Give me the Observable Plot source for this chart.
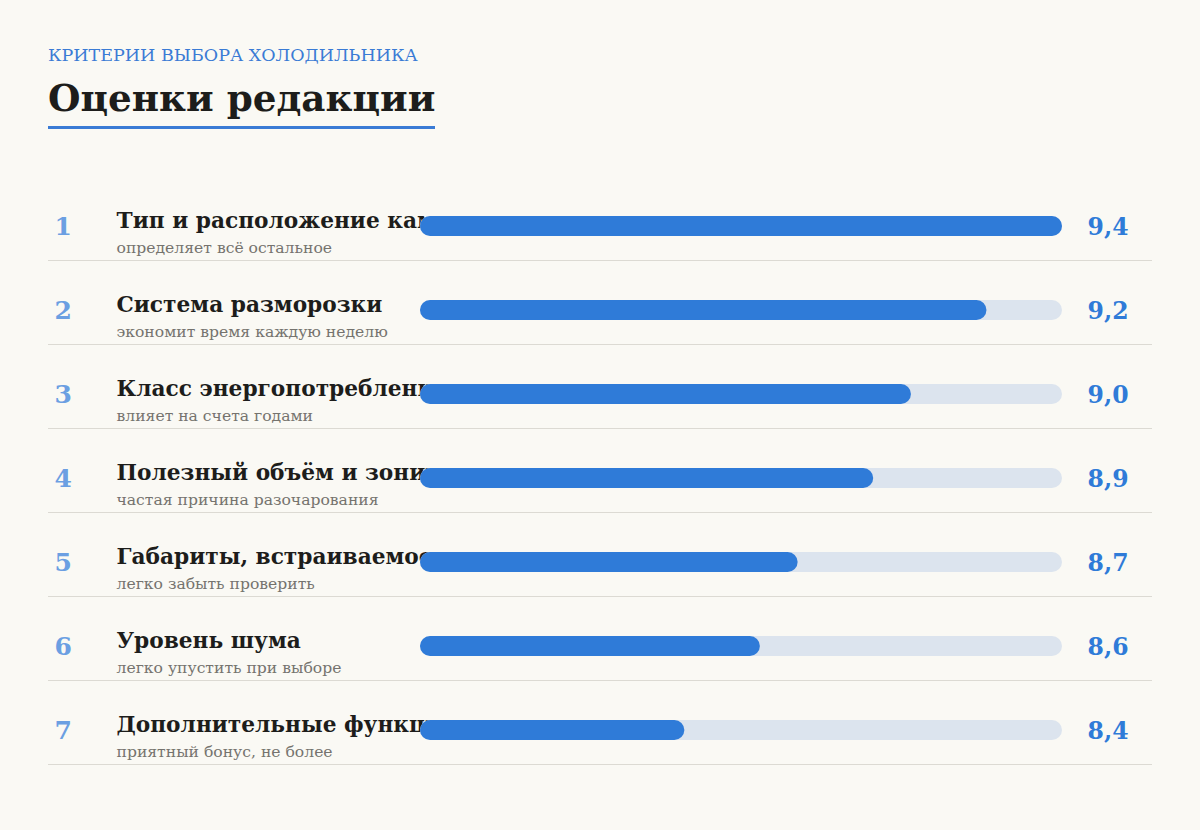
<!DOCTYPE html>
<html lang="ru">
<head>
<meta charset="utf-8">
<script src="https://cdn.jsdelivr.net/npm/d3@7"></script>
<script src="https://cdn.jsdelivr.net/npm/@observablehq/plot@0.6"></script>
<style>
  html, body { margin: 0; padding: 0; background: #faf9f4; }
  body { width: 1200px; height: 830px; overflow: hidden; font-family: "DejaVu Serif", "Liberation Serif", serif; }
  #header { position: relative; height: 150px; }
  #kicker { position: absolute; left: 48px; top: 47px; font-size: 17.5px; line-height: 17.5px; color: #3a7bd5; white-space: nowrap; }
  #title { position: absolute; left: 48px; top: 79px; font-size: 37.3px; line-height: 38px; font-weight: bold; color: #1d1d1b;
           padding-bottom: 9px; border-bottom: 3px solid #3a7bd5; white-space: nowrap; }
</style>
</head>
<body>
<div id="header">
  <div id="kicker">КРИТЕРИИ ВЫБОРА ХОЛОДИЛЬНИКА</div>
  <div id="title">Оценки редакции</div>
</div>
<div id="chart"></div>
<script>
const ranks = [1, 2, 3, 4, 5, 6, 7];
const labels = [
  "Тип и расположение камер",
  "Система разморозки",
  "Класс энергопотребления",
  "Полезный объём и зонирование",
  "Габариты, встраиваемость",
  "Уровень шума",
  "Дополнительные функции"
];
const notes = [
  "определяет всё остальное",
  "экономит время каждую неделю",
  "влияет на счета годами",
  "частая причина разочарования",
  "легко забыть проверить",
  "легко упустить при выборе",
  "приятный бонус, не более"
];
const scores = [9.4, 9.2, 9.0, 8.9, 8.7, 8.6, 8.4];
const scoreMin = 7.7;
const scoreMax = 9.4;

const rows = ranks.map((r, i) => ({rank: r, label: labels[i], note: notes[i], score: scores[i]}));
const fmt = v => v.toFixed(1).replace(".", ",");

const serif = "'DejaVu Serif', 'Liberation Serif', serif";

const chart = Plot.plot({
  width: 1200,
  height: 650,
  marginLeft: 48,
  marginRight: 48,
  marginTop: 0,
  marginBottom: 0,
  style: {background: "transparent", fontFamily: serif, overflow: "visible"},
  x: {domain: [scoreMin, scoreMax], range: [420, 1062], axis: null},
  y: {domain: ranks, range: [34, 622], padding: 0, axis: null},
  marks: [
    Plot.ruleY(rows, {y: "rank", dy: 34, stroke: "#dcdad3", strokeWidth: 1}),
    Plot.text(rows, {y: "rank", text: d => String(d.rank), frameAnchor: "left", textAnchor: "start",
      dx: 6, dy: 0, fontSize: 25, fontWeight: "bold", fill: "#6b9fe2"}),
    Plot.text(rows, {y: "rank", text: "label", frameAnchor: "left", textAnchor: "start",
      dx: 68, dy: -5, fontSize: 21.7, fontWeight: "bold", fill: "#1d1d1b"}),
    Plot.text(rows, {y: "rank", text: "note", frameAnchor: "left", textAnchor: "start",
      dx: 68, dy: 21, fontSize: 15.6, fill: "#75736e"}),
    Plot.barX(rows, {y: "rank", x1: () => scoreMin, x2: () => scoreMax, fill: "#dce4ee",
      insetTop: 32, insetBottom: 32, rx: 10}),
    Plot.barX(rows, {y: "rank", x1: () => scoreMin, x2: "score", fill: "#2f7bd8",
      insetTop: 32, insetBottom: 32, rx: 10}),
    Plot.text(rows, {y: "rank", text: d => fmt(d.score), frameAnchor: "right", textAnchor: "end",
      dx: -24, dy: 1, fontSize: 23.5, fontWeight: "bold", fill: "#2f7bd8"})
  ]
});
document.getElementById("chart").appendChild(chart);
</script>
</body>
</html>
